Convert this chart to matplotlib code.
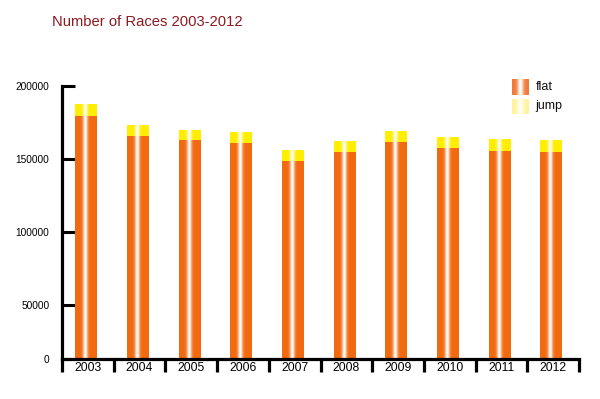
import numpy as np
import matplotlib
matplotlib.use("Agg")
import matplotlib.pyplot as plt
from matplotlib.ticker import FixedLocator, NullFormatter

plt.rcParams['font.family'] = ['Liberation Sans', 'DejaVu Sans']

years = ['2003', '2004', '2005', '2006', '2007', '2008', '2009', '2010', '2011', '2012']
flat = [179300, 165600, 163000, 160800, 148400, 154600, 161600, 157500, 155500, 154400]
jump = [7700, 7000, 6700, 7300, 7100, 7300, 7500, 7500, 8200, 7900]
ytick_vals = [13000, 50000, 100000, 150000, 200000]
ytick_labels = ['0', '50000', '100000', '150000', '200000']
title = 'Number of Races 2003-2012'
legend_labels = ['flat', 'jump']

W, H = 600, 399
fig = plt.figure(figsize=(W / 100, H / 100), dpi=100)
ax = fig.add_axes([62 / W, 1 - 358.7 / H, (579 - 62) / W, (358.7 - 85.7) / H])


def gradient(base, hl_pos=0.47, hl_w=0.11, n=64, strength=1.0):
    t = np.linspace(0, 1, n)
    w = strength * np.exp(-((t - hl_pos) / hl_w) ** 2)
    base = np.array(matplotlib.colors.to_rgb(base))
    rgb = base[None, :] * (1 - w[:, None]) + np.ones(3)[None, :] * w[:, None]
    return rgb[None, :, :]


orange_img = gradient('#F26A10')
yellow_img = gradient('#FFEE00', strength=0.95)

bw = 0.41
off = -0.04
for i, (f, j) in enumerate(zip(flat, jump)):
    x0 = i + off - bw / 2
    x1 = i + off + bw / 2
    ax.imshow(orange_img, extent=[x0, x1, ytick_vals[0], f], aspect='auto',
              interpolation='bilinear', zorder=2)
    ax.imshow(yellow_img, extent=[x0, x1, f, f + j], aspect='auto',
              interpolation='bilinear', zorder=2)

ax.set_xlim(-0.5, len(years) - 0.5)
ax.set_ylim(ytick_vals[0], 200000)

for s in ['top', 'right']:
    ax.spines[s].set_visible(False)
for s in ['left', 'bottom']:
    ax.spines[s].set_linewidth(2.3)
    ax.spines[s].set_color('black')

ax.set_yticks(ytick_vals)
ax.set_yticklabels(ytick_labels)
ax.tick_params(axis='y', direction='in', length=9, width=2.2, pad=9,
               labelsize=7.3, colors='black')

ax.set_xticks(range(len(years)))
ax.set_xticklabels(years)
ax.tick_params(axis='x', which='major', length=0, pad=2.5, labelsize=8.7)
ax.xaxis.set_minor_locator(FixedLocator(np.arange(-0.5, len(years), 1.0)))
ax.xaxis.set_minor_formatter(NullFormatter())
ax.tick_params(axis='x', which='minor', direction='out', length=9.5, width=2.3)

fig.text(51.7 / W, 1 - 22 / H, title, color='#8B1A22', fontsize=10.6,
         ha='left', va='center')

# legend
flat_leg = gradient('#F07A3A', hl_pos=0.5, hl_w=0.18, strength=1.0)
jump_leg = gradient('#FFF3A0', hl_pos=0.5, hl_w=0.2, strength=0.9)
for k, (img, lab) in enumerate(zip([flat_leg, jump_leg], legend_labels)):
    y_top = 79 + k * 19.5
    lax = fig.add_axes([511.7 / W, 1 - (y_top + 15.7) / H, 16.6 / W, 15.7 / H])
    lax.imshow(img, aspect='auto', interpolation='bilinear')
    lax.axis('off')
    fig.text(535.7 / W, 1 - (y_top + 8) / H, lab, fontsize=9,
             ha='left', va='center', color='#111111')

fig.savefig('out.png', dpi=100)
